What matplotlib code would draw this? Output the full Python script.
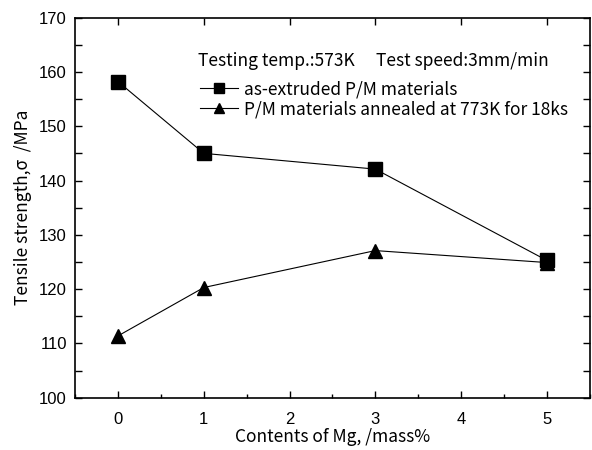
"""Tensile strength vs Mg content — recreated with matplotlib"""

import matplotlib
matplotlib.use("Agg")
import matplotlib.pyplot as plt
import matplotlib.ticker as mticker

plt.rcParams["font.family"] = ["Noto Sans CJK JP", "DejaVu Sans"]

# Data
mg_content = [0, 1, 3, 5]
extruded = [158.2, 145.0, 142.1, 125.3]
annealed = [111.4, 120.3, 127.1, 124.9]

x_ticks = [0, 1, 2, 3, 4, 5]
y_ticks = [100, 110, 120, 130, 140, 150, 160, 170]

BLACK = "#000000"
TEXT_SIZE = 12.5

fig = plt.figure(figsize=(5.92, 4.5), dpi=100)
ax = fig.add_axes([0.127, 0.116, 0.869, 0.845])

ax.plot(mg_content, extruded, color=BLACK, linewidth=0.8, marker="s",
        markersize=9.5, label="as-extruded P/M materials")
ax.plot(mg_content, annealed, color=BLACK, linewidth=0.8, marker="^",
        markersize=10.5, label="P/M materials annealed at 773K for 18ks")

ax.set_xlim(-0.5, 5.5)
ax.set_ylim(100, 170)
ax.set_xticks(x_ticks)
ax.set_yticks(y_ticks)
ax.xaxis.set_minor_locator(mticker.MultipleLocator(0.5))
ax.yaxis.set_minor_locator(mticker.MultipleLocator(5))

ax.tick_params(which="both", direction="in", top=True, right=True,
               width=1.0, colors=BLACK)
ax.tick_params(axis="x", pad=10)
ax.tick_params(axis="y", pad=6)
ax.tick_params(which="major", length=5)
ax.tick_params(which="minor", length=3)
ax.tick_params(axis="x", which="minor", top=False)
ax.tick_params(axis="y", which="minor", length=5)
for lbl in ax.get_xticklabels() + ax.get_yticklabels():
    lbl.set_fontfamily("Liberation Sans")
    lbl.set_fontsize(12)
for s in ax.spines.values():
    s.set_linewidth(1.2)

ax.set_xlabel("Contents of Mg, /mass%", fontsize=TEXT_SIZE, labelpad=1)
ax.set_ylabel("Tensile strength,σ  /MPa", fontsize=TEXT_SIZE, labelpad=5)

ax.text(0.239, 0.887, "Testing temp.:573K\u3000 Test speed:3mm/min",
        transform=ax.transAxes, fontsize=TEXT_SIZE, va="center", ha="left")
ax.legend(loc="center left", bbox_to_anchor=(0.242, 0.785), frameon=False,
          fontsize=TEXT_SIZE, handlelength=2.2, handletextpad=0.35,
          labelspacing=0.1, borderaxespad=0, borderpad=0, markerscale=0.7)

fig.savefig("out.png", dpi=100, facecolor="white")
